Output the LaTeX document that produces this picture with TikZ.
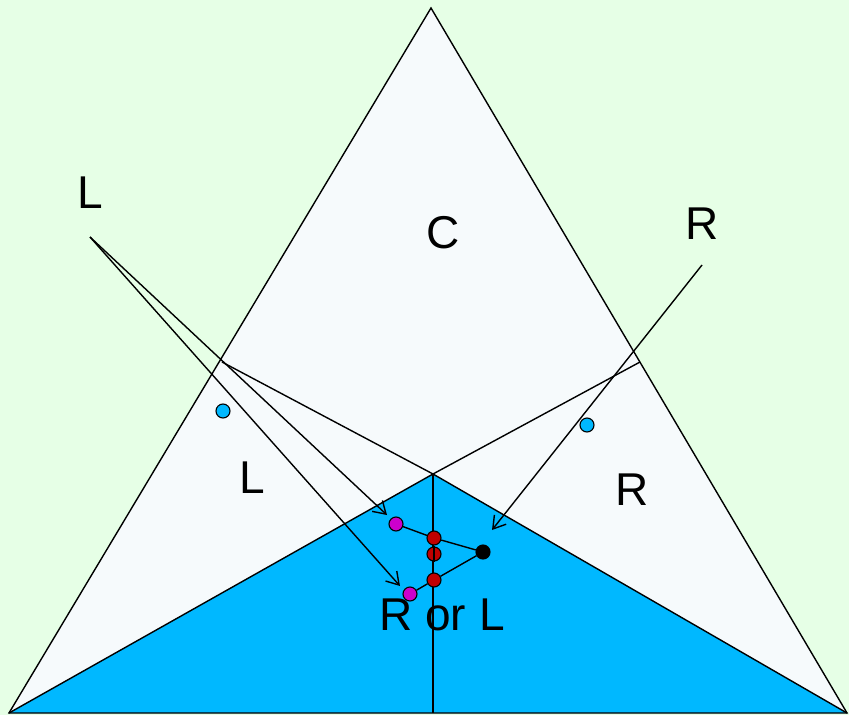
\documentclass[tikz,border=0pt]{standalone}
\usepackage{fontspec}
\setmainfont{Liberation Sans}
\usetikzlibrary{arrows.meta}
\definecolor{bggreen}{RGB}{230,255,230}
\definecolor{paleface}{RGB}{246,250,252}
\definecolor{skyblue}{RGB}{0,184,255}
\definecolor{dotmag}{RGB}{204,0,204}
\definecolor{dotred}{RGB}{192,0,0}
\tikzset{
  edge/.style={line width=1.4pt,black},
  ray/.style={line width=1.4pt,-{Straight Barb[length=12pt,width=15pt,line width=1.4pt]}},
  dot/.style={circle,draw=black,line width=1.1pt,minimum size=14pt,inner sep=0pt},
  lbl/.style={inner sep=0pt,font=\fontsize{46}{52}\selectfont}
}
\begin{document}
\begin{tikzpicture}[x=1pt,y=-1pt]
\useasboundingbox (0,0) rectangle (849,715);
\fill[bggreen] (0,0) rectangle (849,715);
% corners of the big face
\coordinate (top) at (431,8);
\coordinate (bl) at (9,713);
\coordinate (br) at (847,713);
\coordinate (ml) at (222,362);
\coordinate (mr) at (640,362);
\coordinate (ctr) at (433,474);
\coordinate (bot) at (433,713);
\fill[paleface] (top) -- (bl) -- (br) -- cycle;
\fill[skyblue] (bl) -- (ctr) -- (br) -- cycle;
\draw[edge,line join=miter] (top) -- (bl) -- (br) -- cycle;
\draw[edge] (bl) -- (ctr) -- (br);
\draw[edge] (ml) -- (ctr) -- (mr);
\draw[edge] (ctr) -- (bot);
% labels
\node[lbl] (lL) at (90,193) {L};
\node[lbl] (lC) at (443,233) {C};
\node[lbl] (lR) at (702,224) {R};
\node[lbl] (fL) at (252,478) {L};
\node[lbl] (fR) at (632,490) {R};
\node[lbl] (fRL) at (442,615) {R or L};
% rays
\coordinate (srcL) at (90,237);
\coordinate (srcR) at (702,265);
\coordinate (tipA) at (387,515);
\coordinate (tipB) at (400,586);
\coordinate (tipC) at (492,530);
\draw[ray] (srcL) -- (tipA);
\draw[ray] (srcL) -- (tipB);
\draw[ray] (srcR) -- (tipC);
% dots
\node[dot,fill=skyblue] (cyL) at (223,411) {};
\node[dot,fill=skyblue] (cyR) at (587,425) {};
\node[dot,fill=dotmag] (mg1) at (396,524) {};
\node[dot,fill=dotmag] (mg2) at (410,594) {};
\node[dot,fill=dotred] (rd1) at (434,538) {};
\node[dot,fill=dotred] (rd2) at (434,554) {};
\node[dot,fill=dotred] (rd3) at (434,580) {};
\node[dot,fill=black] (bk) at (483,552) {};
\draw[edge] (mg1) -- (rd1) -- (bk) -- (rd3) -- (mg2);
\draw[edge] (rd2.north) -- (rd2.south);
\end{tikzpicture}
\end{document}
